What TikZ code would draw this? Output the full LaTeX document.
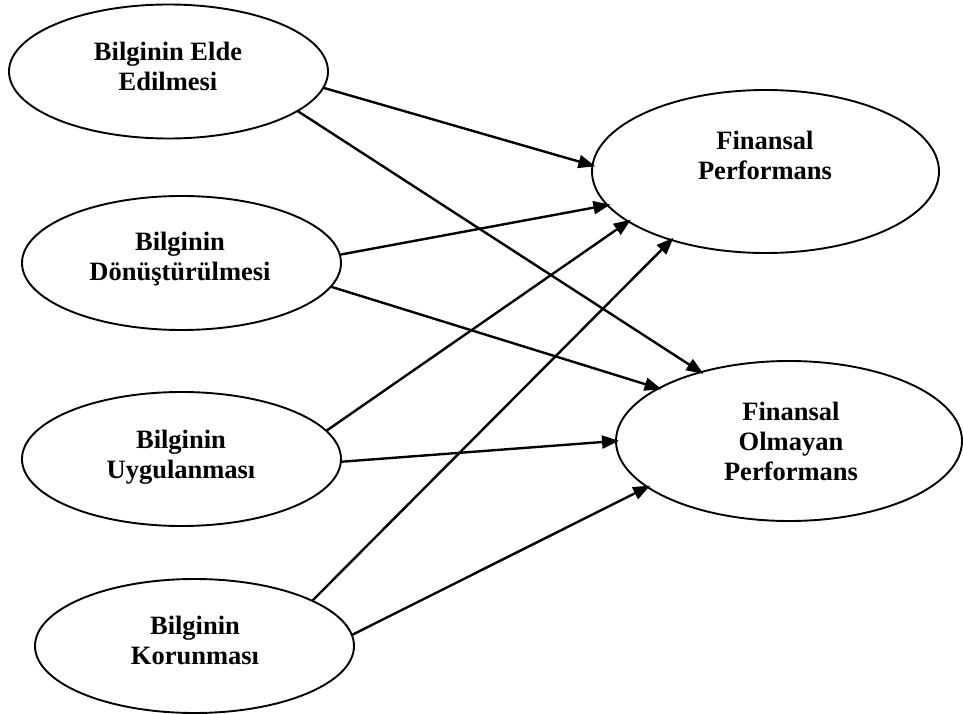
\documentclass[tikz,border=0pt]{standalone}
\usepackage{fontspec}
\setmainfont{Liberation Serif}
\usetikzlibrary{shapes.geometric,arrows.meta}
\begin{document}
\begin{tikzpicture}[x=1pt,y=-1pt,
  ell/.style={draw=black, ellipse, line width=1.9pt, inner sep=0pt, outer sep=0pt},
  small/.style={ell, minimum width=319pt, minimum height=134pt},
  big/.style={ell, minimum width=347pt, minimum height=162pt},
  lbl/.style={anchor=north, align=center, inner sep=0pt,
    font=\fontsize{26.5}{30}\selectfont\bfseries},
  arr/.style={line width=2.4pt, shorten >=-3pt, -{Triangle[length=17pt,width=13pt]}}]
\useasboundingbox (0,0) rectangle (963,714);

% source constructs
\node[small] (e1) at (168.5,71.5) {};
\node[small] (e2) at (181.5,263) {};
\node[small] (e3) at (181.5,459) {};
\node[small] (e4) at (194.5,646) {};
% outcome constructs
\node[big, minimum width=347pt, minimum height=163pt] (e5) at (765.5,171.5) {};
\node[big, minimum width=346pt, minimum height=160pt] (e6) at (789,441) {};

\node[lbl] (t1) at (168,42) {Bilginin Elde\\Edilmesi};
\node[lbl] (t2) at (180,232) {Bilginin\\Dönüştürülmesi};
\node[lbl] (t3) at (181,430) {Bilginin\\Uygulanması};
\node[lbl] (t4) at (195,616) {Bilginin\\Korunması};
\node[lbl] (t5) at (765,131) {Finansal\\Performans};
\node[lbl] (t6) at (791,402) {Finansal\\Olmayan\\Performans};

% paths
\draw[arr] (e1.-6.3)  -- (e5.178.4);
\draw[arr] (e1.-17.1) -- (e6.142);
\draw[arr] (e2.3.9)   -- (e5.192.8);
\draw[arr] (e2.-9.2)  -- (e6.158.9);
\draw[arr] (e3.11.2)  -- (e5.200.1);
\draw[arr] (e3.-1.1)  -- (e6.180.3);
\draw[arr] (e4.21.2)  -- (e5.216.5);
\draw[arr] (e4.4.7)   -- (e6.198.9);
\end{tikzpicture}
\end{document}
